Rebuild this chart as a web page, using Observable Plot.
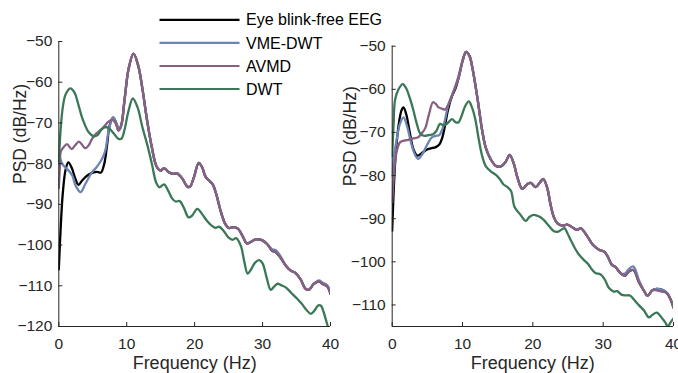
<!DOCTYPE html>
<html>
<head>
<meta charset="utf-8">
<script src="https://cdn.jsdelivr.net/npm/d3@7"></script>
<script src="https://cdn.jsdelivr.net/npm/@observablehq/plot@0.6"></script>
<style>
  html, body { margin: 0; padding: 0; background: #fff; }
  #chart { position: relative; width: 678px; height: 373px; overflow: hidden;
           font-family: "Liberation Sans", Arial, Helvetica, sans-serif; }
  #chart > svg { position: absolute; top: 0; }
</style>
</head>
<body>
<div id="chart"></div>
<script>
// Series labels and colours
const seriesNames  = ["Eye blink-free EEG", "VME-DWT", "AVMD", "DWT"];
const seriesColors = ["#000000", "#6a84b6", "#876080", "#3b7857"];

// Axis ticks
const xTicks      = [0, 10, 20, 30, 40];
const leftYTicks  = [-120, -110, -100, -90, -80, -70, -60, -50];
const rightYTicks = [-110, -100, -90, -80, -70, -60, -50];
const leftYDomain  = [-120, -50];
const rightYDomain = [-115, -50];

// ---- Left panel: PSD (dB/Hz) vs frequency (Hz) ----
const leftCleanFreq = [0,0.3,0.6,1.0,1.4,1.9,2.4,2.9,3.5,4.2,5.0,5.6,6.2,6.7,7.1,7.5,8.0,8.4,8.8,9.2,9.7,10.3,11.0,11.7,12.3,13.0,13.7,14.4,15.0,15.5,16.2,16.9,17.4,18.2,18.9,19.3,19.9,20.6,21.1,21.6,22.1,22.7,23.2,23.8,24.5,25.0,25.8,26.4,27.0,27.7,28.2,29.0,29.9,30.7,31.4,31.9,32.6,33.4,34.1,34.8,35.6,36.3,36.8,37.5,38.3,38.8,39.5,40];
const leftCleanPsd  = [-106,-95,-87,-81.5,-79.7,-81,-83.5,-85.2,-84,-82.9,-82.2,-82,-82.2,-80,-75.5,-70.5,-68.7,-69.8,-71.8,-70.5,-64,-56.5,-53,-56,-61.5,-69.4,-76,-80.7,-81.7,-81.1,-82.1,-82.5,-82.4,-83.7,-85.6,-85.7,-83.3,-79.8,-80.9,-83.2,-84.1,-85.2,-87.6,-91.5,-94.8,-95.8,-95.6,-96,-97.6,-99.6,-99.3,-98.6,-98.8,-99.8,-101.4,-101.7,-103,-105,-106.2,-106.8,-108.4,-110.7,-111,-109.6,-108.9,-109.5,-110.1,-112];

const leftVmeFreq = [0,0.5,1.0,1.5,2.0,2.5,3.2,3.9,4.9,5.5,6.1,6.6,6.9,7.4,8.0,8.6,9.0,9.3,9.7,10.3,11.0,11.7,12.3,13.0,13.7,14.4,15.0,15.5,16.2,16.9,17.4,18.2,18.9,19.3,19.9,20.6,21.1,21.6,22.1,22.7,23.2,23.8,24.5,25.0,25.8,26.4,27.0,27.7,28.2,29.0,29.9,30.7,31.4,31.9,32.6,33.4,34.1,34.8,35.6,36.3,36.8,37.5,38.3,38.8,39.5,40];
const leftVmePsd  = [-77.5,-80,-81,-81.8,-83,-85.5,-87,-85,-82.1,-81,-79.6,-78,-76.4,-71.4,-68.6,-70.6,-71.5,-70,-64,-56.5,-53,-56,-61.5,-69.4,-76,-80.7,-81.7,-81.1,-82.1,-82.5,-82.4,-83.7,-85.6,-85.7,-83.3,-79.8,-80.9,-83.2,-84.1,-85.2,-87.6,-91.5,-94.8,-95.8,-95.6,-96,-97.6,-99.6,-99.3,-98.6,-98.8,-99.8,-101,-101.2,-102.6,-105,-106.2,-106.8,-108.4,-110.7,-111,-109.6,-108.7,-109.2,-109.8,-111.6];

const leftAvmdFreq = [0,0.15,0.3,0.7,1.2,1.9,2.4,2.95,3.4,3.9,4.4,4.9,5.4,5.9,6.6,7.4,7.95,8.4,8.8,9.2,9.7,10.3,11.0,11.7,12.3,13.0,13.7,14.4,15.0,15.5,16.2,16.9,17.4,18.2,18.9,19.3,19.9,20.6,21.1,21.6,22.1,22.7,23.2,23.8,24.5,25.0,25.8,26.4,27.0,27.7,28.2,29.0,29.9,30.7,31.4,31.9,32.6,33.4,34.1,34.8,35.6,36.3,36.8,37.5,38.3,38.8,39.5,40];
const leftAvmdPsd  = [-86,-81,-77,-76,-75.2,-76.4,-75.5,-74.6,-75.3,-76.2,-75.5,-73.9,-72.8,-72.1,-71,-69.6,-69.3,-70.2,-71.9,-70.5,-64,-56.5,-53,-56,-61.5,-69.4,-76,-80.7,-81.7,-81.1,-82.1,-82.5,-82.4,-83.7,-85.6,-85.7,-83.3,-79.8,-80.9,-83.2,-84.1,-85.2,-87.6,-91.5,-94.8,-95.8,-95.6,-96,-97.6,-99.6,-99.3,-98.6,-98.8,-99.8,-101.4,-101.7,-103,-105,-106.2,-106.8,-108.4,-110.7,-111,-109.6,-108.9,-109.5,-110.1,-112];

const leftDwtFreq = [0,0.25,0.6,1.0,1.7,2.3,2.8,3.3,3.8,4.4,5.2,5.7,6.3,6.9,7.5,8.1,8.7,9.2,9.7,10.2,10.9,11.6,12.3,13.0,13.7,14.3,14.8,15.5,16.0,16.7,17.2,17.8,18.4,19.1,19.6,20.4,21.1,21.8,22.5,23.1,23.6,24.3,25.0,25.6,26.1,26.8,27.3,27.8,28.3,28.9,29.5,30.0,30.6,31.2,31.7,32.2,32.8,33.4,34.2,35.1,35.8,36.5,37.1,37.6,38.2,38.6,39.0,39.4,39.8];
const leftDwtPsd  = [-80,-72,-66,-63,-61.5,-62.5,-65,-68,-70.3,-72.3,-73.3,-73,-71.6,-71,-71.5,-72.6,-73.8,-73.9,-71.5,-67.5,-64,-66.2,-71,-75.2,-80,-84.5,-85.8,-85.1,-86.3,-88.6,-89.3,-89.2,-90.8,-93.2,-92.8,-91.1,-92.4,-94,-95.2,-95.8,-95.5,-96.6,-98.2,-98.7,-98.3,-100.2,-104,-107,-106,-104.3,-103.7,-104.5,-108,-111,-110.2,-109.5,-109.9,-110.4,-111.7,-113.2,-114.5,-116,-116.9,-116.2,-114.8,-114.9,-116.5,-118.8,-121];

// ---- Right panel ----
const rightCleanFreq = [0,0.2,0.5,0.9,1.3,1.6,2.0,2.5,3.0,3.6,4.2,4.9,5.5,6.2,6.7,7.1,7.5,7.9,8.5,9.0,9.5,10.0,10.5,11.0,11.4,12.1,12.8,13.3,14.0,14.7,15.4,16.1,16.7,17.3,17.8,18.5,19.2,19.7,20.4,21.0,21.5,22.1,22.5,23.0,23.5,24.2,24.9,25.8,26.3,26.8,27.7,28.5,29.4,30.1,30.6,31.2,31.8,32.5,33.1,33.7,34.3,35.1,35.8,36.3,37.0,37.6,38.4,39.1,39.6,40];
const rightCleanPsd  = [-92.8,-84,-75,-68.5,-65,-64.2,-65.8,-70,-73.8,-75.4,-74.8,-74,-73.7,-73.4,-72.8,-71.3,-68.5,-65,-61.6,-59.8,-57,-53.5,-51.3,-52.3,-55,-61.8,-69.6,-73.5,-76.2,-77.7,-77.9,-76.9,-75.2,-77.3,-80.4,-83.1,-82,-81.7,-82.7,-81.6,-80.8,-83.2,-86.6,-89.7,-91.1,-91.6,-91.4,-92.2,-92.6,-92.2,-94,-96,-97.2,-97.6,-98.6,-100.6,-101.3,-102.7,-103.2,-102.2,-101.9,-104.8,-106.7,-107.9,-106.6,-106.3,-106.5,-107.3,-108.8,-110.6];

const rightVmeFreq = [0,0.3,0.65,1.1,1.6,2.1,2.7,3.2,3.7,4.3,4.9,5.6,6.2,6.7,7.3,8.0,8.7,9.2,9.5,10.0,10.5,11.0,11.4,12.1,12.8,13.3,14.0,14.7,15.4,16.1,16.7,17.3,17.8,18.5,19.2,19.7,20.4,21.0,21.5,22.1,22.5,23.0,23.5,24.2,24.9,25.8,26.3,26.8,27.7,28.5,29.4,30.1,30.6,31.2,31.8,32.5,33.1,33.7,34.3,35.1,35.8,36.3,37.0,37.6,38.4,39.1,39.6,40];
const rightVmePsd  = [-80,-75,-71.5,-68,-66.5,-68.5,-72.5,-75,-76.1,-75,-73.1,-71.2,-70.8,-70.6,-68.4,-63.5,-60.5,-58.5,-57,-53.5,-51.3,-52.3,-55,-61.8,-69.6,-73.5,-76.2,-77.7,-77.9,-76.9,-75.2,-77.3,-80.4,-83.1,-82,-81.7,-82.7,-81.6,-80.8,-83.2,-86.6,-89.7,-91.1,-91.6,-91.4,-92.2,-92.6,-92.2,-94,-96,-97.2,-97.6,-98.6,-100.6,-101.3,-102.7,-102.7,-101.6,-101.1,-104.3,-106.7,-107.9,-106.6,-106.3,-106.5,-107.3,-108.8,-110.6];

const rightAvmdFreq = [0,0.2,0.4,0.7,1.1,1.7,2.3,3.0,3.7,4.2,4.7,5.2,5.8,6.2,6.6,7.1,7.5,7.9,8.25,8.95,9.5,10.0,10.5,11.0,11.4,12.1,12.8,13.3,14.0,14.7,15.4,16.1,16.7,17.3,17.8,18.5,19.2,19.7,20.4,21.0,21.5,22.1,22.5,23.0,23.5,24.2,24.9,25.8,26.3,26.8,27.7,28.5,29.4,30.1,30.6,31.2,31.8,32.5,33.1,33.7,34.3,35.1,35.8,36.3,37.0,37.6,38.4,39.1,39.6,40];
const rightAvmdPsd  = [-86.2,-81,-77,-74,-72.3,-71.9,-71.7,-71.4,-71.1,-70.2,-69,-66,-63,-63.4,-64.2,-64.5,-64.7,-63.8,-62.6,-59.5,-56.5,-53.3,-51.3,-52.3,-55,-61.8,-69.6,-73.5,-76.2,-77.7,-77.9,-76.9,-75.2,-77.3,-80.4,-83.1,-82,-81.7,-82.7,-81.6,-80.8,-83.2,-86.6,-89.7,-91.1,-91.6,-91.4,-92.2,-92.6,-92.2,-94,-96,-97.2,-97.6,-98.6,-100.6,-101.3,-102.7,-103.2,-102.2,-101.9,-104.8,-106.7,-107.9,-106.6,-106.6,-106.9,-107.3,-108.8,-110.6];

const rightDwtFreq = [0,0.2,0.4,0.9,1.5,2.0,2.5,3.0,3.5,4.0,4.6,5.2,5.8,6.3,6.8,7.3,7.8,8.5,9.0,9.4,9.9,10.4,10.9,11.3,11.8,12.3,12.8,13.3,14.0,14.7,15.3,15.8,16.4,16.9,17.4,18.2,19.0,19.5,20.1,20.9,21.5,22.2,23.0,23.6,24.1,24.5,24.9,25.4,26.0,26.5,27.2,27.8,28.4,28.9,29.6,30.2,30.8,31.5,32.0,32.6,33.2,33.8,34.4,35.1,35.8,36.5,37.0,37.6,38.3,38.8,39.2,39.6,40];
const rightDwtPsd  = [-75.5,-68,-62.5,-60,-58.8,-59.8,-62,-64.8,-68,-70.3,-70.8,-70.6,-70.4,-69.6,-68,-68.3,-68,-66.9,-67.6,-67.7,-66,-63.8,-62.8,-64,-66.8,-71.5,-75.5,-77.8,-79,-79.8,-80.8,-82,-82.7,-83.6,-87.3,-89,-90.5,-89.6,-89.1,-89.5,-90.2,-91.5,-92.9,-93,-92.5,-92.2,-93.3,-95,-96.9,-98.2,-99.5,-100.4,-101.8,-102.6,-102.9,-104,-106,-106.9,-106.8,-107.6,-107.8,-107.8,-108.8,-110.1,-111.3,-112.9,-112.3,-111.8,-112.9,-114,-114.9,-114,-113.1];

// Long-format rows for one panel, in drawing order (EEG, VME-DWT, AVMD, DWT)
function toRows(pairs) {
  return pairs.flatMap(([name, freq, psd]) =>
    freq.map((f, i) => ({series: name, freq: f, psd: psd[i]})));
}

const leftRows = toRows([
  [seriesNames[0], leftCleanFreq, leftCleanPsd],
  [seriesNames[1], leftVmeFreq, leftVmePsd],
  [seriesNames[2], leftAvmdFreq, leftAvmdPsd],
  [seriesNames[3], leftDwtFreq, leftDwtPsd]
]);
const rightRows = toRows([
  [seriesNames[0], rightCleanFreq, rightCleanPsd],
  [seriesNames[1], rightVmeFreq, rightVmePsd],
  [seriesNames[2], rightAvmdFreq, rightAvmdPsd],
  [seriesNames[3], rightDwtFreq, rightDwtPsd]
]);

const axisColor = "#262626";
const fontFamily = '"Liberation Sans", Arial, Helvetica, sans-serif';

function panel({rows, width, yDomain, yTicks, marginLeft, marginRight, marginTop, marginBottom, yLabelDx}) {
  const height = 373;
  const innerW = width - marginLeft - marginRight;
  const innerH = height - marginTop - marginBottom;
  const tickPx = 4;
  const xTickLen = tickPx * (yDomain[1] - yDomain[0]) / innerH;   // inward tick length, y units
  const yTickLen = tickPx * 40 / innerW;                          // inward tick length, x units
  return Plot.plot({
    width, height, marginLeft, marginRight, marginTop, marginBottom,
    x: {domain: [0, 40]},
    y: {domain: yDomain},
    color: {domain: seriesNames, range: seriesColors},
    style: {fontFamily, fontSize: "15.5px", color: axisColor, background: "transparent", overflow: "visible"},
    marks: [
      Plot.line(rows, {x: "freq", y: "psd", z: "series", stroke: "series",
                       strokeWidth: 2.3, curve: "catmull-rom", clip: true}),
      Plot.ruleX([0], {stroke: axisColor, strokeWidth: 1}),
      Plot.ruleY([yDomain[0]], {stroke: axisColor, strokeWidth: 1}),
      Plot.ruleX(xTicks, {y1: yDomain[0], y2: yDomain[0] + xTickLen, stroke: axisColor}),
      Plot.ruleY(yTicks, {x1: 0, x2: yTickLen, stroke: axisColor}),
      Plot.axisX({ticks: xTicks, tickSize: 0, tickPadding: 11.5, label: null, fontSize: 15.5}),
      Plot.axisY({ticks: yTicks, tickSize: 0, tickPadding: 6.5, label: null, fontSize: 15.5}),
      Plot.text(["Frequency (Hz)"], {frameAnchor: "bottom", lineAnchor: "middle", dy: 36.5,
                                     text: d => d, fontSize: 18, fill: axisColor}),
      Plot.text(["PSD (dB/Hz)"], {frameAnchor: "left", lineAnchor: "middle", dx: yLabelDx, rotate: -90,
                                  text: d => d, fontSize: 17.5, fill: axisColor})
    ]
  });
}

const chart = document.getElementById("chart");

const left = panel({rows: leftRows, width: 340, yDomain: leftYDomain, yTicks: leftYTicks,
                    marginLeft: 58.3, marginRight: 10, marginTop: 41, marginBottom: 47, yLabelDx: -38.3});
left.style.left = "0px";
chart.appendChild(left);

const right = panel({rows: rightRows, width: 338, yDomain: rightYDomain, yTicks: rightYTicks,
                     marginLeft: 51.7, marginRight: 5, marginTop: 45.7, marginBottom: 47, yLabelDx: -41.7});
right.style.left = "340px";
chart.appendChild(right);

// Legend (no box), upper middle of the figure
const legend = d3.create("svg")
  .attr("width", 678).attr("height", 110)
  .style("left", "0px").style("pointer-events", "none")
  .attr("font-family", fontFamily);
const rowY = [19.8, 42.9, 66, 89];
seriesNames.forEach((name, i) => {
  const g = legend.append("g").attr("transform", `translate(0,${rowY[i]})`);
  g.append("line").attr("x1", 159.5).attr("x2", 239.5)
    .attr("stroke", seriesColors[i]).attr("stroke-width", 2.2);
  g.append("text").attr("x", 246).attr("dy", "0.35em")
    .attr("font-size", 16).attr("fill", "#000").text(name);
});
chart.appendChild(legend.node());
</script>
</body>
</html>
